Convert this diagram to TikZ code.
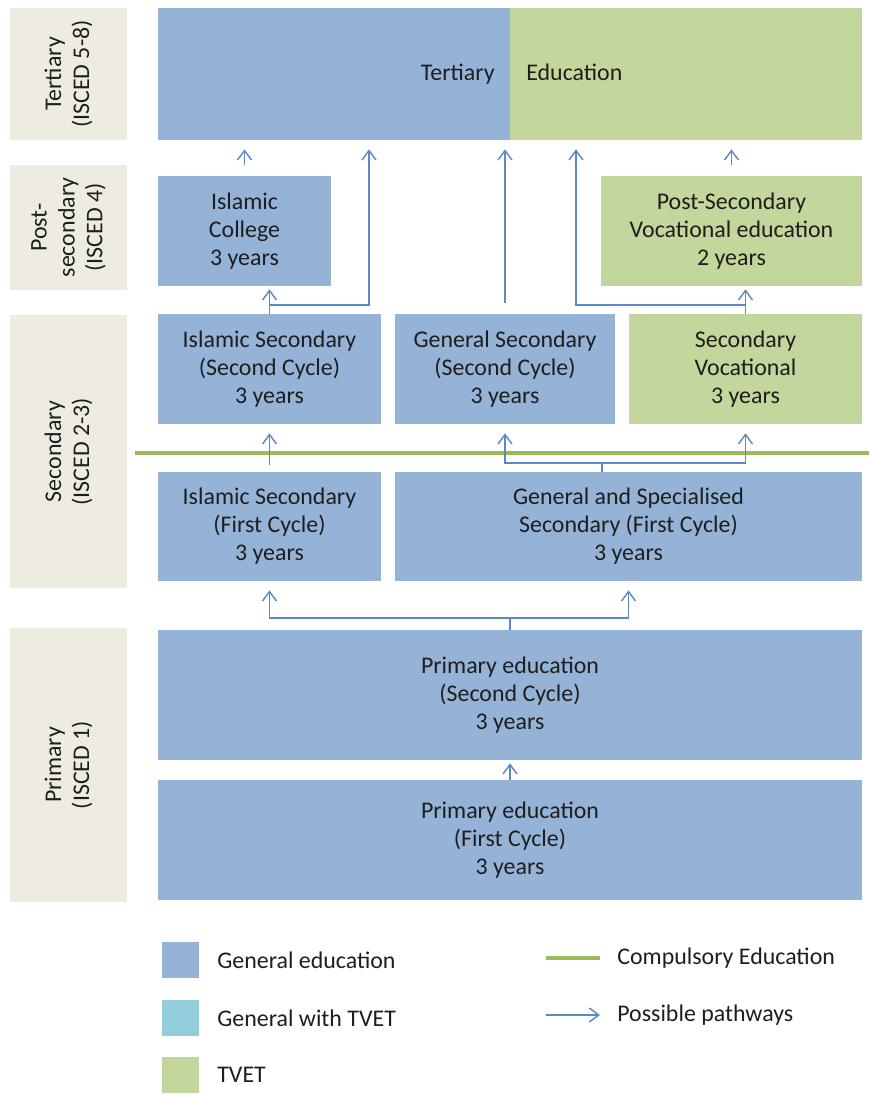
\documentclass[tikz,border=0pt]{standalone}
\usepackage{fontspec}
\setmainfont{Carlito}
\usetikzlibrary{arrows.meta}
\definecolor{genblue}{HTML}{95B3D7}
\definecolor{tvetgreen}{HTML}{C3D69B}
\definecolor{tvetteal}{HTML}{92CDDC}
\definecolor{iscedbeige}{HTML}{EEECE1}
\definecolor{compgreen}{HTML}{9BBB59}
\definecolor{routeblue}{HTML}{5B88C6}
\definecolor{txt}{HTML}{1E1E1E}

\tikzset{
  gen/.style={fill=genblue, text=txt, align=center, inner sep=0pt},
  tvet/.style={fill=tvetgreen, text=txt, align=center, inner sep=0pt},
  isced/.style={fill=iscedbeige, text=txt, rotate=90, align=center, inner sep=0pt, minimum height=2.34cm},
  route/.style={routeblue, line width=0.8pt, -{Straight Barb[length=1.9mm,width=2.8mm]}},
  compline/.style={compgreen, line width=2.8pt}
}

\begin{document}
\begin{tikzpicture}[x=0.02cm,y=-0.02cm,font=\fontsize{13.6}{15.9}\selectfont]
    \useasboundingbox (0,0) rectangle (869,1095);

    % levels
    \node[isced, minimum width=2.64cm] (lvT) at (68.5,74) {Tertiary\\(ISCED 5-8)};
    \node[isced, minimum width=2.5cm] (lvP) at (68.5,227.5) {Post-\\secondary\\(ISCED 4)};
    \node[isced, minimum width=5.46cm] (lvS) at (68.5,451.5) {Secondary\\(ISCED 2-3)};
    \node[isced, minimum width=5.48cm] (lvB) at (68.5,765) {Primary\\(ISCED 1)};

    % tertiary
    \node[gen, minimum width=7.04cm, minimum height=2.64cm] (terA) at (334,74) {};
    \node[tvet, minimum width=7.04cm, minimum height=2.64cm] (terB) at (686,74) {};
    \node[text=txt, anchor=base east, inner sep=0pt] (terAtxt) at (495,81) {Tertiary};
    \node[text=txt, anchor=base west, inner sep=0pt] (terBtxt) at (526,81) {Education};

    % post-secondary
    \node[gen, minimum width=3.46cm, minimum height=2.2cm] (iscol) at (244.5,231) {Islamic\\College\\3 years};
    \node[tvet, minimum width=5.22cm, minimum height=2.2cm] (psv) at (731.5,231) {Post-Secondary\\Vocational education\\2 years};

    % secondary
    \node[gen, minimum width=4.46cm, minimum height=2.2cm] (is2) at (269.5,369) {Islamic Secondary\\(Second Cycle)\\3 years};
    \node[gen, minimum width=4.4cm, minimum height=2.2cm] (gs2) at (505,369) {General Secondary\\(Second Cycle)\\3 years};
    \node[tvet, minimum width=4.66cm, minimum height=2.2cm] (sv) at (745.5,369) {Secondary\\Vocational\\3 years};
    \node[gen, minimum width=4.46cm, minimum height=2.18cm] (is1) at (269.5,526.5) {Islamic Secondary\\(First Cycle)\\3 years};
    \node[gen, minimum width=9.34cm, minimum height=2.18cm] (gss1) at (628.5,526.5) {General and Specialised\\Secondary (First Cycle)\\3 years};

    % primary
    \node[gen, minimum width=14.08cm, minimum height=2.6cm] (p2) at (510,695) {Primary education\\(Second Cycle)\\3 years};
    \node[gen, minimum width=14.08cm, minimum height=2.4cm] (p1) at (510,840) {Primary education\\(First Cycle)\\3 years};

    % compulsory line
    \coordinate (C1) at (135,453);
    \coordinate (C2) at (869,453);
    \draw[compline] (C1) -- (C2);

    % pathways
    \coordinate (A1) at (369,305);
    \coordinate (A2) at (576,305);
    \coordinate (B1) at (602,463);
    \coordinate (D1) at (510,618);

    \draw[route, shorten <=0.22cm, shorten >=0.18cm] (iscol.north) -- (iscol.north |- terA.south);
    \draw[route, shorten <=0.22cm, shorten >=0.18cm] (psv.north) -- (psv.north |- terA.south);
    \draw[route, shorten >=0.06cm] (is2.north) -- (is2.north |- iscol.south);
    \draw[route, shorten >=0.18cm] (is2.north) |- (A1) -- (A1 |- terA.south);
    \draw[route, shorten <=0.22cm, shorten >=0.18cm] (gs2.north) -- (gs2.north |- terA.south);
    \draw[route, shorten >=0.06cm] (sv.north) -- (sv.north |- psv.south);
    \draw[route, shorten >=0.18cm] (sv.north) |- (A2) -- (A2 |- terA.south);

    \draw[route, shorten <=0.14cm, shorten >=0.18cm] (is1.north) -- (is2.south);
    \draw[routeblue, line width=0.8pt] (gss1.north -| B1) -- (B1);
    \draw[route, shorten >=0.18cm] (B1) -| (gs2.south);
    \draw[route, shorten >=0.18cm] (B1) -| (sv.south);

    \draw[routeblue, line width=0.8pt] (p2.north) -- (D1);
    \draw[route, shorten >=0.18cm] (D1) -| (is1.south);
    \draw[route, shorten >=0.18cm] (D1) -| (gss1.south);
    \draw[route, shorten >=0.06cm] (p1.north) -- (p2.south);

%legend
    \node[fill=genblue, minimum width=0.74cm, minimum height=0.72cm, inner sep=0pt] (kGen) at (180.5,960) {};
    \node[fill=tvetteal, minimum width=0.74cm, minimum height=0.72cm, inner sep=0pt] (kMix) at (180.5,1018) {};
    \node[fill=tvetgreen, minimum width=0.74cm, minimum height=0.72cm, inner sep=0pt] (kTvet) at (180.5,1075) {};
    \node[text=txt, anchor=west, inner sep=0pt] (kGentxt) at (217,960) {General education};
    \node[text=txt, anchor=west, inner sep=0pt] (kMixtxt) at (217,1018) {General with TVET};
    \node[text=txt, anchor=west, inner sep=0pt] (kTvettxt) at (217,1075) {TVET};

    \coordinate (L1) at (546,958);
    \coordinate (L2) at (600,958);
    \coordinate (L3) at (546,1015);
    \coordinate (L4) at (600,1015);
    \draw[compline] (L1) -- (L2);
    \draw[route] (L3) -- (L4);
    \node[text=txt, anchor=west, inner sep=0pt] (kComp) at (617,958) {Compulsory Education};
    \node[text=txt, anchor=west, inner sep=0pt] (kPath) at (617,1015) {Possible pathways};

\end{tikzpicture}
\end{document}
